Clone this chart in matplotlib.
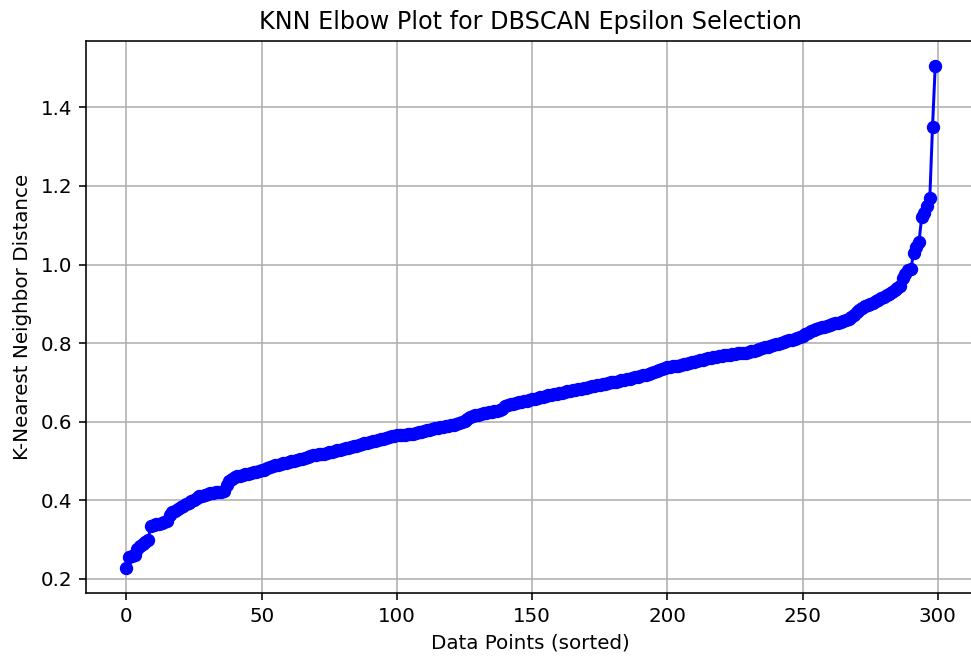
import numpy as np
import matplotlib
matplotlib.use("Agg")
import matplotlib.pyplot as plt

# sorted k-distances (10 per row)
k_dist = [
    0.228, 0.255, 0.258, 0.262, 0.275, 0.285, 0.290, 0.294, 0.300, 0.335,
    0.337, 0.339, 0.340, 0.342, 0.345, 0.348, 0.362, 0.370, 0.374, 0.378,
    0.382, 0.386, 0.390, 0.394, 0.398, 0.402, 0.406, 0.410, 0.412, 0.414,
    0.416, 0.418, 0.419, 0.420, 0.421, 0.422, 0.424, 0.440, 0.450, 0.455,
    0.460, 0.462, 0.463, 0.465, 0.466, 0.468, 0.470, 0.471, 0.473, 0.474,
    0.476, 0.478, 0.481, 0.484, 0.487, 0.489, 0.491, 0.493, 0.494, 0.496,
    0.497, 0.499, 0.500, 0.502, 0.504, 0.505, 0.507, 0.509, 0.512, 0.515,
    0.516, 0.517, 0.518, 0.519, 0.520, 0.522, 0.523, 0.525, 0.527, 0.528,
    0.530, 0.532, 0.534, 0.535, 0.537, 0.539, 0.541, 0.543, 0.545, 0.547,
    0.549, 0.551, 0.552, 0.554, 0.556, 0.557, 0.559, 0.561, 0.563, 0.564,
    0.565, 0.566, 0.566, 0.567, 0.568, 0.569, 0.570, 0.571, 0.573, 0.575,
    0.577, 0.579, 0.580, 0.582, 0.583, 0.585, 0.586, 0.587, 0.588, 0.590,
    0.591, 0.592, 0.594, 0.596, 0.599, 0.603, 0.607, 0.611, 0.614, 0.616,
    0.618, 0.620, 0.622, 0.623, 0.624, 0.625, 0.627, 0.628, 0.630, 0.632,
    0.640, 0.643, 0.645, 0.646, 0.647, 0.649, 0.650, 0.652, 0.654, 0.656,
    0.658, 0.659, 0.661, 0.662, 0.664, 0.665, 0.667, 0.668, 0.670, 0.671,
    0.672, 0.674, 0.675, 0.677, 0.678, 0.680, 0.681, 0.683, 0.684, 0.686,
    0.687, 0.688, 0.690, 0.691, 0.693, 0.694, 0.695, 0.697, 0.698, 0.700,
    0.701, 0.702, 0.703, 0.705, 0.706, 0.708, 0.710, 0.712, 0.713, 0.715,
    0.717, 0.718, 0.720, 0.722, 0.724, 0.726, 0.728, 0.731, 0.734, 0.737,
    0.739, 0.740, 0.741, 0.742, 0.743, 0.744, 0.746, 0.748, 0.750, 0.752,
    0.753, 0.755, 0.756, 0.758, 0.759, 0.761, 0.762, 0.764, 0.765, 0.766,
    0.768, 0.769, 0.770, 0.771, 0.772, 0.773, 0.774, 0.774, 0.775, 0.776,
    0.777, 0.779, 0.781, 0.783, 0.785, 0.787, 0.789, 0.791, 0.793, 0.795,
    0.797, 0.799, 0.801, 0.803, 0.805, 0.807, 0.809, 0.811, 0.813, 0.815,
    0.818, 0.822, 0.826, 0.830, 0.833, 0.836, 0.838, 0.840, 0.842, 0.844,
    0.846, 0.848, 0.850, 0.852, 0.854, 0.856, 0.859, 0.862, 0.866, 0.871,
    0.878, 0.885, 0.890, 0.894, 0.897, 0.900, 0.903, 0.906, 0.910, 0.914,
    0.918, 0.922, 0.926, 0.930, 0.934, 0.940, 0.946, 0.965, 0.975, 0.985,
    0.988, 1.030, 1.045, 1.058, 1.120, 1.130, 1.150, 1.170, 1.350, 1.505,
]

# the reference is an (8, 5) figure shown about 1.435x larger
s = 1.435

fig = plt.figure(figsize=(9.71, 6.57), dpi=100)
ax = fig.add_axes([0.0886, 0.0974, 0.9162, 0.8402])

ax.plot(np.arange(len(k_dist)), k_dist, marker="o", color="blue",
        markersize=6 * s, linewidth=1.5 * s)

ax.set_title("KNN Elbow Plot for DBSCAN Epsilon Selection", fontsize=12 * s, pad=6 * s)
ax.set_xlabel("Data Points (sorted)", fontsize=10 * s, labelpad=4 * s)
ax.set_ylabel("K-Nearest Neighbor Distance", fontsize=10 * s, labelpad=4 * s)
ax.tick_params(labelsize=10 * s, length=3.5 * s, width=0.8 * s, pad=3.5 * s)
for sp in ax.spines.values():
    sp.set_linewidth(0.8 * s)
ax.grid(True, linewidth=0.8 * s)

fig.savefig("out.png", dpi=100)
